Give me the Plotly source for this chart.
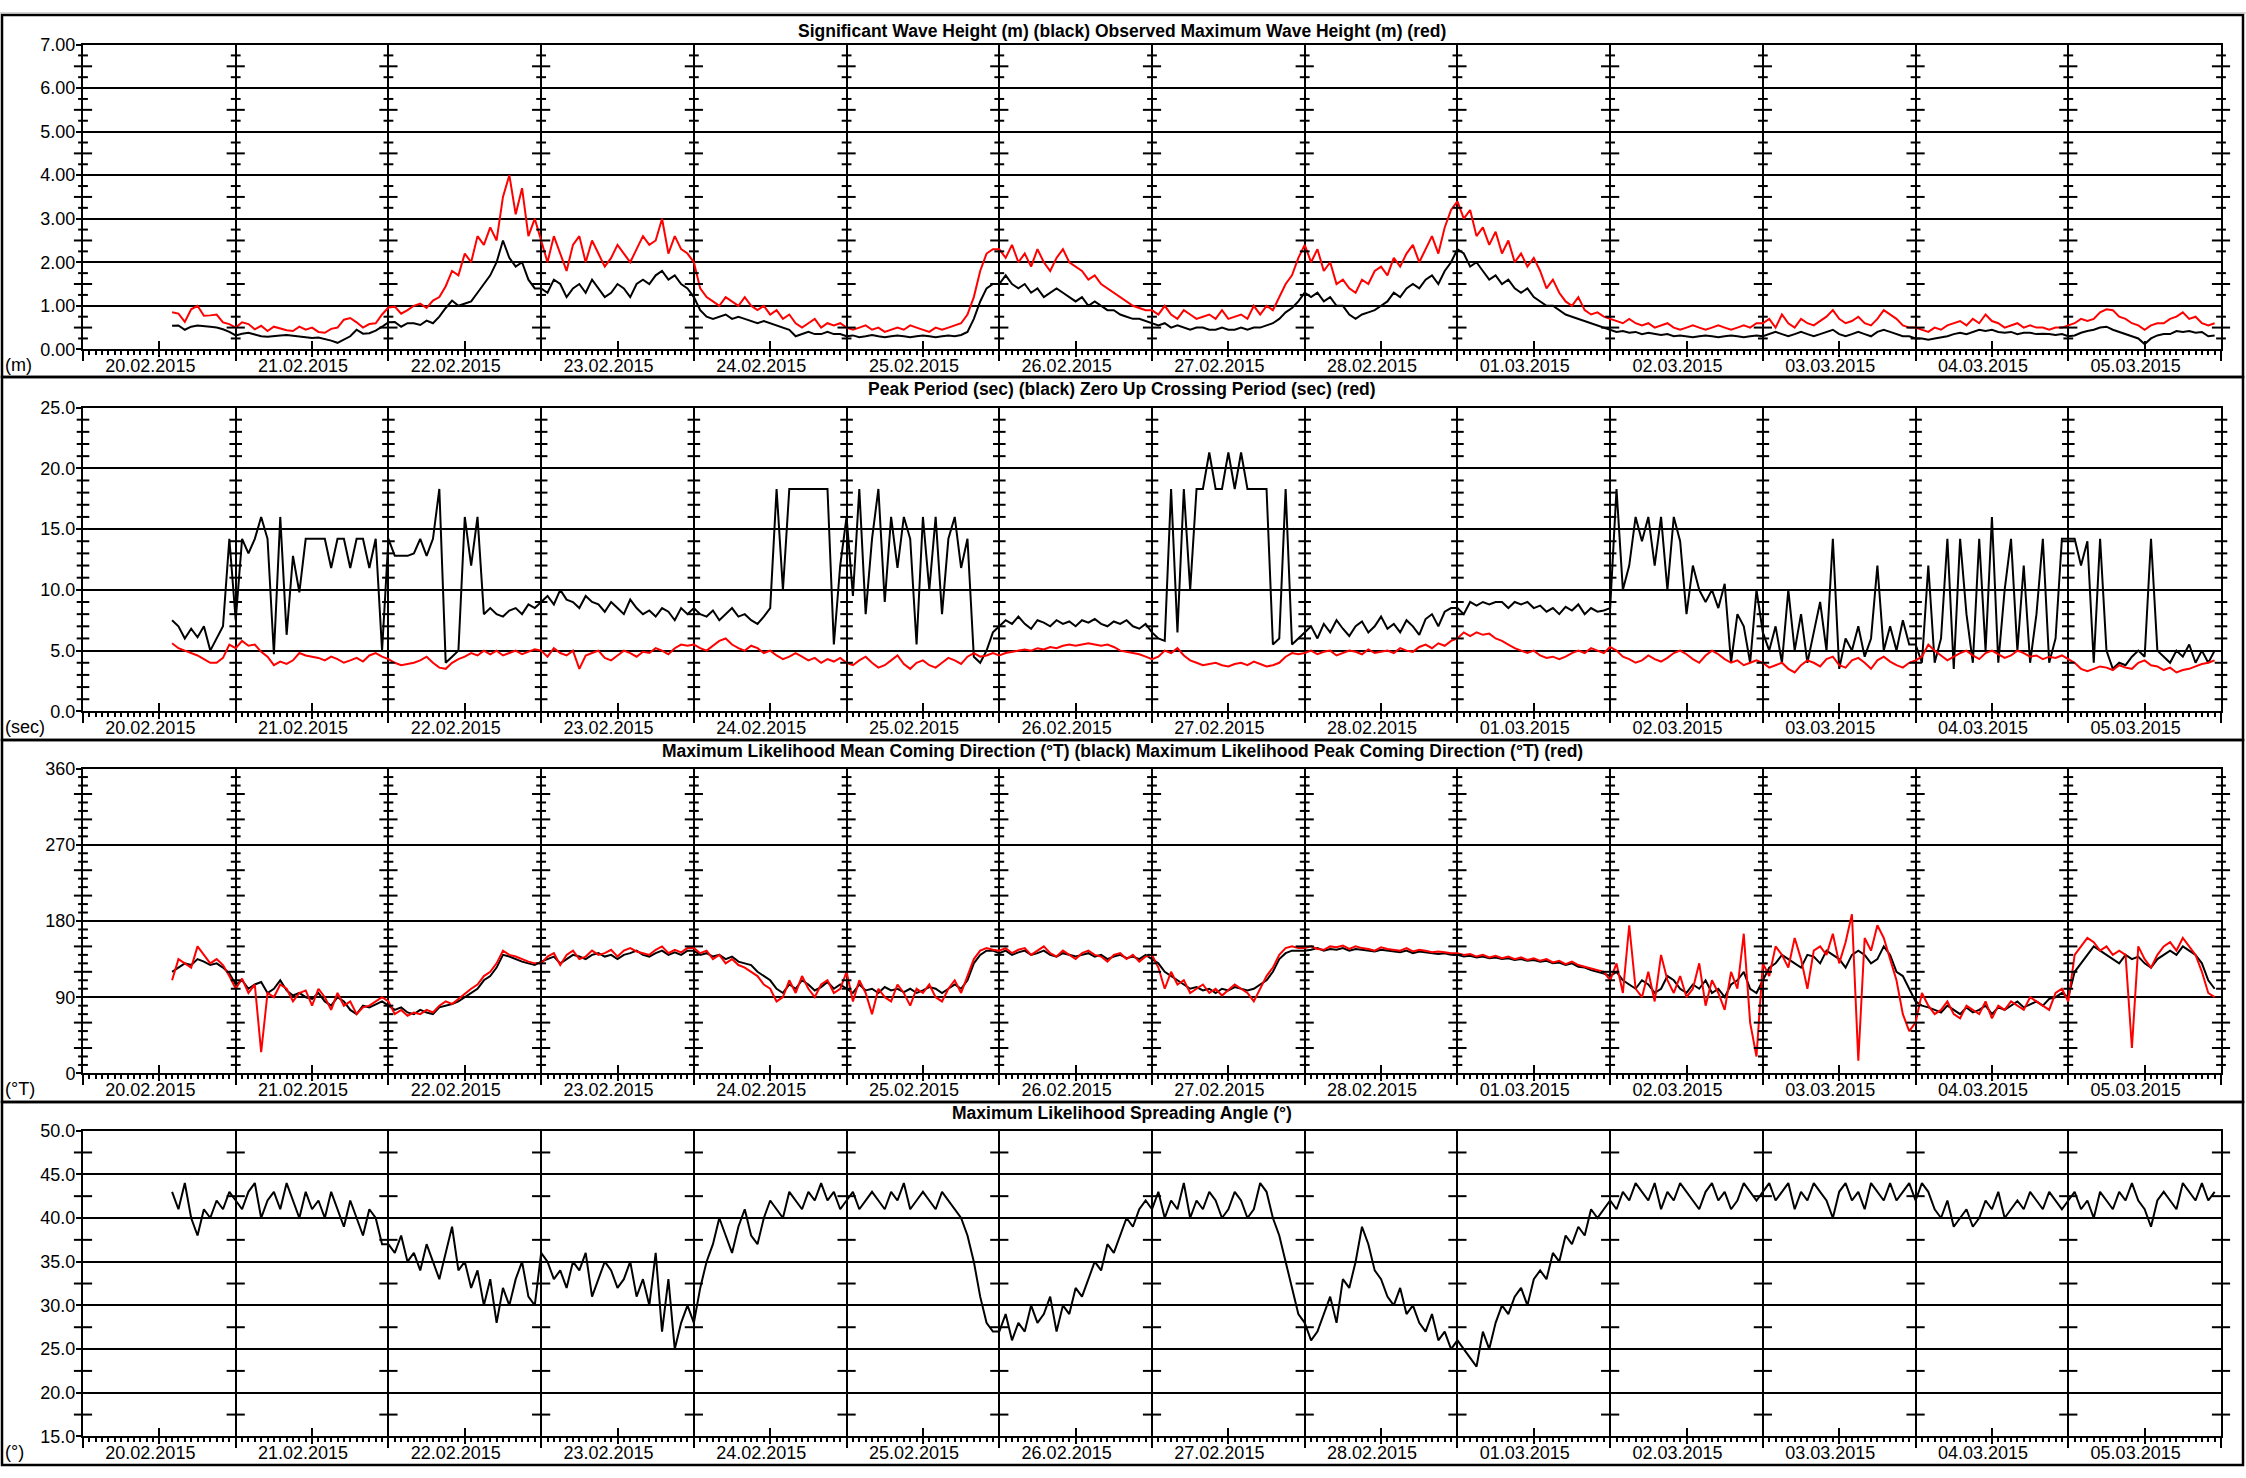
import pandas as pd
import plotly.graph_objects as go

# ---------------- DATA (hourly samples, first sample 20.02.2015 14:00) ----------------
START = "2015-02-20 14:00"

HS = [  # Significant wave height (m) - black
    0.54, 0.55, 0.45, 0.52, 0.55, 0.54, 0.52, 0.50, 0.46, 0.40,
    0.32, 0.36, 0.38, 0.34, 0.30, 0.29, 0.31, 0.32, 0.33, 0.31, 0.30, 0.28, 0.26, 0.27, 0.24, 0.20, 0.15, 0.22, 0.30, 0.45, 0.36, 0.37, 0.43, 0.52,
    0.62, 0.63, 0.52, 0.60, 0.60, 0.56, 0.66, 0.60, 0.75, 0.95, 1.12, 1.00, 1.05, 1.10, 1.30, 1.50, 1.70, 2.00, 2.50, 2.10, 1.90, 2.00, 1.60, 1.40,
    1.40, 1.30, 1.60, 1.50, 1.20, 1.40, 1.50, 1.30, 1.60, 1.40, 1.20, 1.30, 1.50, 1.40, 1.20, 1.50, 1.60, 1.50, 1.70, 1.80, 1.60, 1.70, 1.50, 1.40,
    1.20, 0.90, 0.75, 0.70, 0.75, 0.80, 0.70, 0.75, 0.70, 0.65, 0.60, 0.65, 0.60, 0.55, 0.50, 0.45, 0.30, 0.35, 0.40, 0.35, 0.35, 0.40, 0.35, 0.35,
    0.30, 0.32, 0.28, 0.30, 0.33, 0.30, 0.28, 0.30, 0.32, 0.30, 0.28, 0.30, 0.32, 0.30, 0.28, 0.30, 0.32, 0.30, 0.33, 0.40, 0.70, 1.10, 1.40, 1.50,
    1.50, 1.70, 1.50, 1.40, 1.50, 1.30, 1.40, 1.20, 1.30, 1.40, 1.30, 1.20, 1.10, 1.20, 1.00, 1.10, 1.00, 0.90, 0.90, 0.80, 0.75, 0.70, 0.70, 0.65,
    0.60, 0.55, 0.60, 0.50, 0.55, 0.50, 0.45, 0.50, 0.50, 0.45, 0.45, 0.50, 0.45, 0.45, 0.50, 0.45, 0.50, 0.50, 0.55, 0.60, 0.70, 0.85, 0.95, 1.10,
    1.30, 1.20, 1.30, 1.10, 1.20, 1.00, 1.00, 0.80, 0.70, 0.80, 0.85, 0.90, 1.00, 1.10, 1.30, 1.20, 1.40, 1.50, 1.40, 1.60, 1.70, 1.50, 1.80, 2.00,
    2.30, 2.20, 1.90, 2.00, 1.80, 1.60, 1.70, 1.50, 1.60, 1.40, 1.30, 1.40, 1.20, 1.10, 1.00, 1.00, 0.90, 0.80, 0.75, 0.70, 0.65, 0.60, 0.55, 0.50,
    0.45, 0.40, 0.42, 0.38, 0.40, 0.35, 0.38, 0.35, 0.33, 0.35, 0.30, 0.32, 0.30, 0.28, 0.30, 0.32, 0.30, 0.28, 0.30, 0.32, 0.30, 0.28, 0.30, 0.32,
    0.30, 0.35, 0.40, 0.35, 0.30, 0.35, 0.40, 0.35, 0.30, 0.35, 0.40, 0.45, 0.35, 0.30, 0.35, 0.40, 0.35, 0.30, 0.40, 0.45, 0.40, 0.35, 0.30, 0.30,
    0.25, 0.25, 0.22, 0.25, 0.28, 0.30, 0.35, 0.38, 0.35, 0.40, 0.45, 0.42, 0.45, 0.40, 0.38, 0.40, 0.35, 0.38, 0.38, 0.35, 0.36, 0.35, 0.33, 0.35,
    0.30, 0.32, 0.38, 0.42, 0.45, 0.50, 0.52, 0.45, 0.40, 0.35, 0.30, 0.25, 0.12, 0.25, 0.32, 0.35, 0.35, 0.42, 0.40, 0.42, 0.38, 0.40, 0.30, 0.32,
]

HMAX = [  # Observed maximum wave height (m) - red
    0.85, 0.82, 0.63, 0.92, 1.00, 0.77, 0.78, 0.80, 0.62, 0.58,
    0.50, 0.62, 0.58, 0.46, 0.54, 0.42, 0.52, 0.48, 0.44, 0.42, 0.52, 0.45, 0.50, 0.40, 0.38, 0.47, 0.50, 0.68, 0.72, 0.62, 0.50, 0.58, 0.60, 0.80,
    0.96, 0.98, 0.82, 0.90, 1.00, 1.05, 0.95, 1.12, 1.20, 1.45, 1.80, 1.70, 2.20, 2.00, 2.60, 2.40, 2.80, 2.50, 3.50, 4.00, 3.10, 3.70, 2.60, 3.00,
    2.50, 2.00, 2.60, 2.20, 1.80, 2.40, 2.60, 2.00, 2.50, 2.20, 1.90, 2.10, 2.40, 2.20, 2.00, 2.30, 2.60, 2.40, 2.50, 3.00, 2.20, 2.60, 2.30, 2.20,
    2.00, 1.40, 1.20, 1.10, 1.00, 1.20, 1.10, 1.00, 1.20, 1.00, 0.90, 1.00, 0.80, 0.90, 0.70, 0.80, 0.60, 0.50, 0.60, 0.70, 0.50, 0.60, 0.55, 0.60,
    0.50, 0.45, 0.50, 0.55, 0.45, 0.50, 0.40, 0.45, 0.50, 0.45, 0.55, 0.50, 0.45, 0.40, 0.50, 0.45, 0.50, 0.55, 0.60, 0.80, 1.20, 1.80, 2.20, 2.30,
    2.30, 2.10, 2.40, 2.00, 2.20, 1.90, 2.30, 2.00, 1.80, 2.10, 2.30, 2.00, 1.90, 1.80, 1.60, 1.70, 1.50, 1.40, 1.30, 1.20, 1.10, 1.00, 0.95, 0.90,
    0.90, 0.80, 1.00, 0.80, 0.70, 0.90, 0.80, 0.70, 0.75, 0.80, 0.70, 0.90, 0.70, 0.75, 0.80, 0.70, 1.00, 0.80, 1.00, 0.90, 1.20, 1.50, 1.70, 2.10,
    2.40, 2.00, 2.30, 1.80, 2.00, 1.50, 1.60, 1.40, 1.30, 1.60, 1.50, 1.80, 1.90, 1.70, 2.10, 1.90, 2.20, 2.40, 2.00, 2.30, 2.60, 2.20, 2.80, 3.20,
    3.40, 3.00, 3.20, 2.60, 2.80, 2.40, 2.70, 2.20, 2.50, 2.00, 2.20, 1.90, 2.10, 1.80, 1.40, 1.60, 1.30, 1.10, 1.00, 1.20, 0.90, 0.80, 0.85, 0.75,
    0.70, 0.65, 0.60, 0.70, 0.60, 0.55, 0.60, 0.50, 0.55, 0.60, 0.50, 0.45, 0.50, 0.55, 0.50, 0.45, 0.50, 0.55, 0.50, 0.45, 0.50, 0.55, 0.50, 0.60,
    0.60, 0.70, 0.50, 0.80, 0.60, 0.50, 0.70, 0.60, 0.55, 0.65, 0.75, 0.90, 0.70, 0.60, 0.65, 0.75, 0.60, 0.55, 0.70, 0.90, 0.80, 0.70, 0.55, 0.50,
    0.50, 0.45, 0.40, 0.50, 0.45, 0.55, 0.60, 0.65, 0.55, 0.70, 0.60, 0.80, 0.65, 0.60, 0.50, 0.55, 0.60, 0.50, 0.55, 0.50, 0.50, 0.45, 0.50, 0.50,
    0.55, 0.60, 0.70, 0.65, 0.70, 0.85, 0.92, 0.90, 0.75, 0.70, 0.60, 0.55, 0.45, 0.55, 0.60, 0.60, 0.70, 0.75, 0.85, 0.70, 0.75, 0.60, 0.55, 0.60,
]

TP = [  # Peak period (sec) - black
    7.5, 7.0, 6.0, 6.8, 6.1, 7.0, 5.0, 6.0, 7.0, 14.2,
    7.5, 14.2, 13.0, 14.2, 16.0, 14.2, 4.7, 16.0, 6.3, 12.8, 9.8, 14.2, 14.2, 14.2, 14.2, 11.8, 14.2, 14.2, 11.8, 14.2, 14.2, 11.8, 14.2, 5.0,
    14.2, 12.8, 12.8, 12.8, 13.0, 14.2, 12.8, 14.2, 18.3, 4.0, 4.5, 5.0, 16.0, 12.0, 16.0, 8.0, 8.5, 8.0, 7.8, 8.3, 8.5, 8.0, 8.8, 8.5,
    9.0, 9.5, 8.8, 10.0, 9.2, 9.0, 8.5, 9.5, 9.0, 8.8, 8.2, 9.0, 8.5, 8.0, 9.2, 8.5, 8.0, 8.3, 7.8, 8.5, 8.2, 7.5, 8.5, 8.0,
    8.5, 8.0, 7.8, 8.3, 7.5, 8.0, 8.5, 7.8, 8.0, 7.5, 7.2, 7.8, 8.5, 18.3, 10.0, 18.3, 18.3, 18.3, 18.3, 18.3, 18.3, 18.3, 5.5, 12.0,
    16.0, 9.5, 18.3, 8.0, 14.2, 18.3, 9.0, 16.0, 11.8, 16.0, 14.2, 5.5, 16.0, 10.0, 16.0, 8.0, 14.2, 16.0, 11.8, 14.2, 4.5, 4.0, 5.0, 6.5,
    7.0, 7.5, 7.2, 7.8, 7.2, 6.8, 7.5, 7.3, 7.0, 7.5, 7.2, 7.4, 7.0, 7.5, 7.3, 7.6, 7.2, 7.0, 7.4, 7.2, 7.5, 7.0, 6.8, 7.2,
    6.5, 6.0, 5.8, 18.3, 6.5, 18.3, 10.0, 18.3, 18.3, 21.3, 18.3, 18.3, 21.3, 18.3, 21.3, 18.3, 18.3, 18.3, 18.3, 5.5, 6.0, 18.3, 5.5, 6.0,
    6.5, 7.0, 6.0, 7.2, 6.5, 7.5, 6.8, 6.2, 7.0, 7.4, 6.5, 7.0, 7.8, 6.8, 7.2, 6.5, 7.5, 7.0, 6.3, 7.6, 8.0, 7.0, 8.2, 8.5,
    8.5, 8.0, 9.0, 8.7, 9.0, 8.8, 9.0, 9.0, 8.5, 9.0, 8.8, 9.0, 8.5, 8.7, 8.2, 8.5, 8.0, 8.6, 8.3, 8.8, 8.0, 8.5, 8.2, 8.3,
    8.5, 18.3, 10.0, 12.0, 16.0, 14.0, 16.0, 12.0, 16.0, 10.0, 16.0, 14.0, 8.0, 12.0, 10.0, 9.0, 10.0, 8.5, 10.5, 4.0, 8.0, 7.0, 4.0, 10.0,
    6.5, 5.0, 7.0, 4.0, 10.0, 5.0, 8.0, 4.0, 6.5, 9.0, 5.0, 14.2, 3.5, 6.0, 5.0, 7.0, 4.5, 6.0, 12.0, 5.0, 7.0, 5.0, 7.5, 5.5,
    5.5, 4.0, 12.0, 4.0, 6.0, 14.2, 3.5, 14.2, 8.0, 4.0, 14.2, 5.0, 16.0, 4.0, 10.0, 14.2, 5.0, 12.0, 4.0, 8.0, 14.2, 4.0, 6.0, 14.2,
    14.2, 14.2, 12.0, 14.0, 4.0, 14.2, 5.0, 3.5, 4.0, 3.8, 4.5, 5.0, 4.5, 14.2, 5.0, 4.5, 4.0, 5.0, 4.5, 5.5, 4.0, 5.0, 4.0, 5.0,
]

TZ = [  # Zero up-crossing period (sec) - red
    5.6, 5.2, 5.0, 4.8, 4.6, 4.3, 4.0, 4.0, 4.4, 5.5,
    5.2, 5.8, 5.4, 5.5, 4.9, 4.5, 3.8, 4.1, 3.9, 4.2, 4.8, 4.6, 4.5, 4.4, 4.2, 4.5, 4.3, 4.0, 4.2, 4.4, 4.1, 4.6, 4.8, 4.5,
    4.3, 4.0, 3.8, 3.9, 4.0, 4.2, 4.5, 4.0, 3.6, 3.5, 4.0, 4.3, 4.5, 4.8, 4.6, 5.0, 4.7, 5.0, 4.6, 4.8, 5.0, 4.7, 4.9, 5.1,
    5.0, 4.5, 5.2, 4.8, 4.6, 5.0, 3.5, 4.6, 4.8, 5.0, 4.4, 4.2, 4.6, 5.0, 4.8, 4.5, 4.9, 4.8, 5.2, 5.0, 4.7, 5.2, 5.5, 5.4,
    5.5, 5.2, 5.0, 5.4, 5.8, 6.0, 5.5, 5.2, 5.0, 5.4, 5.2, 4.8, 5.0, 4.6, 4.3, 4.5, 4.8, 4.5, 4.2, 4.4, 4.0, 4.3, 4.1, 4.4,
    4.0, 3.8, 4.2, 4.5, 4.0, 3.6, 3.8, 4.2, 4.6, 3.9, 3.5, 4.0, 4.2, 3.8, 3.6, 4.0, 4.4, 4.2, 3.9, 4.5, 4.8, 4.5, 4.6, 4.8,
    4.6, 4.8, 4.9, 5.0, 5.1, 5.0, 5.2, 5.1, 5.3, 5.2, 5.4, 5.5, 5.4, 5.5, 5.6, 5.5, 5.4, 5.5, 5.3, 5.0, 4.9, 4.8, 4.7, 4.5,
    4.3, 4.5, 5.0, 4.8, 5.2, 4.6, 4.2, 4.0, 3.8, 3.9, 4.0, 3.8, 3.7, 3.9, 4.0, 3.8, 4.1, 3.9, 3.7, 3.8, 4.0, 4.5, 4.8, 4.7,
    4.8, 5.0, 4.7, 4.9, 5.0, 4.6, 4.8, 5.0, 4.9, 4.7, 5.1, 4.8, 4.9, 5.0, 4.8, 5.2, 5.0, 4.9, 5.3, 5.5, 5.2, 5.6, 5.4, 5.8,
    6.0, 6.5, 6.2, 6.5, 6.3, 6.4, 6.0, 5.8, 5.5, 5.2, 5.0, 4.8, 5.0, 4.6, 4.4, 4.5, 4.3, 4.5, 4.8, 5.0, 4.8, 5.2, 5.0, 4.8,
    5.3, 5.0, 4.5, 4.3, 4.0, 4.2, 4.6, 4.3, 4.1, 4.4, 4.8, 5.0, 4.7, 4.3, 4.0, 4.6, 5.0, 4.7, 4.3, 4.0, 4.2, 3.8, 4.0, 4.2,
    4.0, 3.6, 3.8, 4.0, 3.5, 3.2, 3.8, 4.2, 4.0, 3.7, 4.3, 4.5, 3.8, 3.6, 4.2, 4.4, 4.0, 3.5, 4.2, 4.5, 4.1, 3.8, 3.6, 4.0,
    4.2, 4.5, 5.5, 5.0, 4.6, 4.2, 4.5, 4.8, 5.0, 4.6, 4.3, 4.8, 5.0, 4.7, 4.4, 4.6, 5.0, 4.8, 4.5, 4.6, 4.3, 4.5, 4.4, 4.6,
    4.3, 4.0, 3.5, 3.3, 3.5, 3.7, 3.6, 3.4, 3.8, 3.6, 3.5, 4.0, 4.2, 3.8, 3.7, 3.4, 3.6, 3.2, 3.4, 3.5, 3.7, 3.9, 4.0, 4.2,
]

MDIR = [  # Maximum likelihood mean coming direction (deg T) - black
    120, 125, 130, 128, 135, 132, 128, 130, 125, 118,
    105, 110, 100, 105, 108, 95, 100, 110, 98, 92, 95, 90, 88, 95, 85, 80, 90, 85, 75, 70, 80, 78, 82, 85,
    80, 75, 78, 72, 70, 75, 72, 70, 78, 80, 82, 85, 90, 95, 100, 110, 115, 125, 140, 138, 135, 132, 130, 128,
    132, 135, 138, 130, 135, 140, 138, 135, 140, 142, 138, 140, 135, 140, 142, 145, 140, 138, 142, 145, 140, 143, 140, 145,
    145, 140, 142, 138, 140, 135, 138, 132, 130, 128, 120, 115, 110, 100, 95, 105, 100, 110, 105, 98, 102, 108, 100, 105,
    100, 95, 105, 98, 100, 95, 102, 98, 100, 96, 100, 95, 98, 102, 100, 95, 100, 105, 100, 110, 130, 140, 145, 145,
    142, 145, 140, 143, 145, 140, 142, 145, 140, 138, 142, 140, 138, 140, 142, 138, 140, 135, 138, 140, 136, 138, 135, 140,
    135, 130, 120, 115, 110, 105, 100, 102, 98, 100, 95, 100, 98, 102, 100, 98, 100, 105, 110, 120, 135, 142, 145, 145,
    145, 146, 148, 145, 147, 146, 148, 145, 147, 146, 145, 144, 146, 145, 144, 143, 145, 142, 144, 143, 142, 141, 142, 140,
    140, 138, 139, 137, 138, 136, 137, 135, 136, 134, 135, 133, 134, 132, 133, 130, 131, 128, 130, 126, 125, 122, 120, 118,
    115, 120, 110, 105, 100, 110, 105, 95, 100, 115, 110, 100, 95, 105, 100, 110, 95, 100, 90, 105, 110, 120, 100, 95,
    110, 125, 130, 140, 135, 130, 125, 140, 138, 130, 145, 140, 135, 125, 140, 145, 140, 130, 135, 150, 140, 120, 115, 100,
    85, 80, 78, 75, 72, 80, 75, 70, 78, 72, 75, 80, 70, 78, 75, 80, 85, 78, 82, 85, 80, 88, 90, 95,
    90, 120, 130, 140, 150, 145, 140, 135, 130, 140, 135, 138, 130, 125, 135, 140, 145, 140, 150, 145, 140, 130, 110, 100,
]

PDIR = [  # Maximum likelihood peak coming direction (deg T) - red
    110, 135, 130, 125, 150, 140, 130, 135, 128, 115,
    100, 112, 95, 105, 25, 95, 90, 105, 100, 85, 95, 98, 80, 100, 90, 75, 95, 80, 85, 70, 78, 80, 85, 90,
    85, 70, 75, 68, 72, 70, 75, 72, 80, 85, 82, 88, 95, 100, 105, 115, 120, 130, 145, 140, 138, 135, 132, 130,
    130, 138, 142, 128, 140, 145, 135, 138, 145, 140, 142, 146, 138, 145, 148, 144, 142, 140, 146, 150, 142, 146, 143, 148,
    148, 142, 145, 135, 140, 130, 135, 128, 125, 120, 115, 105, 100, 85, 90, 110, 95, 115, 100, 90, 105, 110, 95, 100,
    120, 85, 110, 95, 70, 100, 90, 85, 105, 95, 80, 100, 95, 105, 90, 85, 100, 110, 95, 115, 135, 145, 148, 146,
    145, 148, 142, 146, 148, 140, 145, 150, 142, 138, 145, 140, 135, 142, 145, 140, 138, 132, 140, 142, 135, 140, 132, 138,
    140, 125, 100, 120, 105, 110, 95, 100, 105, 95, 100, 92, 98, 105, 100, 95, 85, 100, 115, 125, 140, 148, 150, 148,
    148, 150, 147, 146, 150, 149, 151, 147, 150, 148, 147, 145, 149, 147, 146, 145, 148, 144, 146, 145, 143, 144, 143, 142,
    142, 140, 141, 138, 140, 137, 139, 136, 138, 135, 137, 134, 136, 133, 135, 131, 133, 129, 132, 128, 126, 124, 122, 120,
    110, 130, 95, 175, 100, 90, 120, 85, 140, 110, 95, 115, 90, 100, 130, 80, 110, 95, 75, 120, 100, 165, 60, 20,
    130, 115, 150, 140, 125, 160, 135, 100, 145, 150, 140, 165, 130, 155, 188, 15, 160, 145, 175, 160, 135, 110, 70, 50,
    60, 95, 80, 70, 75, 85, 70, 65, 80, 75, 70, 85, 65, 80, 75, 85, 80, 75, 90, 85, 80, 75, 95, 100,
    85, 140, 150, 160, 155, 145, 150, 140, 145, 140, 30, 150, 135, 125, 140, 150, 155, 145, 160, 150, 140, 120, 95, 90,
]

SPREAD = [  # Maximum likelihood spreading angle (deg) - black
    43, 41, 44, 40, 38, 41, 40, 42, 41, 43,
    42, 41, 43, 44, 40, 42, 43, 41, 44, 42, 40, 43, 41, 42, 40, 43, 41, 39, 42, 40, 38, 41, 40, 37,
    37, 36, 38, 35, 36, 34, 37, 35, 33, 36, 39, 34, 35, 32, 34, 30, 33, 28, 32, 30, 33, 35, 31, 30,
    36, 35, 33, 34, 32, 35, 34, 36, 31, 33, 35, 34, 32, 33, 35, 31, 33, 30, 36, 27, 33, 25, 28, 30,
    28, 32, 35, 37, 40, 38, 36, 39, 41, 38, 37, 40, 42, 41, 40, 43, 42, 41, 43, 42, 44, 42, 43, 41,
    42, 43, 41, 42, 43, 42, 41, 43, 42, 44, 41, 42, 43, 42, 41, 43, 42, 41, 40, 38, 35, 31, 28, 27,
    27, 29, 26, 28, 27, 30, 28, 29, 31, 27, 30, 29, 32, 31, 33, 35, 34, 37, 36, 38, 40, 39, 41, 42,
    41, 43, 40, 42, 41, 44, 40, 42, 41, 43, 42, 40, 41, 43, 42, 40, 41, 44, 43, 40, 38, 35, 32, 29,
    28, 26, 27, 29, 31, 28, 33, 32, 35, 39, 37, 34, 33, 31, 30, 32, 29, 30, 28, 27, 29, 26, 27, 25,
    26, 25, 24, 23, 27, 25, 28, 30, 29, 31, 32, 30, 33, 34, 33, 36, 35, 38, 37, 39, 38, 41, 40, 41,
    42, 41, 43, 42, 44, 43, 42, 44, 41, 43, 42, 44, 43, 42, 41, 43, 44, 42, 43, 41, 42, 44, 43, 42,
    43, 44, 42, 43, 44, 41, 43, 42, 44, 43, 42, 40, 43, 44, 42, 43, 41, 44, 43, 42, 44, 42, 43, 44,
    42, 44, 43, 41, 40, 42, 39, 40, 41, 39, 40, 42, 41, 43, 40, 41, 42, 41, 43, 42, 41, 43, 42, 41,
    42, 43, 41, 42, 40, 43, 42, 41, 43, 42, 44, 42, 41, 39, 42, 43, 42, 41, 44, 43, 42, 44, 42, 43,
]

TITLES = [
    "Significant Wave Height (m) (black) Observed Maximum Wave Height (m) (red)",
    "Peak Period (sec) (black) Zero Up Crossing Period (sec) (red)",
    "Maximum Likelihood Mean Coming Direction (°T) (black) Maximum Likelihood Peak Coming Direction (°T) (red)",
    "Maximum Likelihood Spreading Angle (°)",
]
UNITS = ["(m)", "(sec)", "(°T)", "(°)"]
Y_RANGES = [(0, 7), (0, 25), (0, 360), (15, 50)]
Y_DTICK = [1, 5, 90, 5]
Y_FORMAT = [".2f", ".1f", "d", ".1f"]
# small cross ticks on each day line: (long marks, short marks)
Y_CROSS_LONG = [[0.5, 1.5, 2.5, 3.5, 4.5, 5.5, 6.5],
                [],
                [30, 60, 120, 150, 210, 240, 300, 330],
                [17.5, 22.5, 27.5, 32.5, 37.5, 42.5, 47.5]]
Y_CROSS_SHORT = [[0.25, 0.75, 1.25, 1.75, 2.25, 2.75, 3.25, 3.75, 4.25, 4.75, 5.25, 5.75, 6.25, 6.75],
                 [v for v in range(1, 25) if v % 5 != 0],
                 [v for v in range(10, 360, 10) if v % 30 != 0],
                 []]

X_START = "2015-02-20 00:00"
X_END = "2015-03-06 00:00"

# ---------------- FIGURE ----------------
W, H = 2246, 1478
FONT = "Liberation Sans, Arial, Helvetica, sans-serif"
for name, s in [("HS", HS), ("HMAX", HMAX), ("TP", TP), ("TZ", TZ), ("MDIR", MDIR), ("PDIR", PDIR), ("SPREAD", SPREAD)]:
    if len(s) != 322:
        raise ValueError(f"{name} has {len(s)} values")


def px(x):
    return x / W


def py(y):
    return 1 - y / H


XDOM = [px(83), px(2221)]
PLOT_TOP = [35, 403, 769, 1136]
PLOT_BOT = [344, 711, 1078, 1446]
BORDERS = [5, 372, 740, 1107, 1475]
TITLE_Y = [21, 384, 751, 1118]

times = pd.date_range(START, periods=len(HS), freq="h")
mids = pd.date_range(X_START, X_END, freq="D")

series = [[(HS, "black"), (HMAX, "red")],
          [(TP, "black"), (TZ, "red")],
          [(MDIR, "black"), (PDIR, "red")],
          [(SPREAD, "black")]]

fig = go.Figure()
layout = dict(
    width=W, height=H, margin=dict(l=0, r=0, t=0, b=0),
    paper_bgcolor="white", plot_bgcolor="white", showlegend=False,
    font=dict(family=FONT, size=18, color="black"),
)
annotations = []
shapes = []

for i in range(4):
    k = i + 1
    kg = k + 4
    kn = k + 8
    ydom = [py(PLOT_BOT[i]), py(PLOT_TOP[i])]
    # main axis: day labels at noon
    layout[f"xaxis{k}"] = dict(
        domain=XDOM, anchor=f"y{k}", type="date", range=[X_START, X_END],
        tick0="2015-02-20 12:00", dtick=86400000, tickformat="%d.%m.%Y",
        ticks="outside", ticklen=6, tickwidth=2, tickcolor="black",
        ticklabelshift=-9, ticklabelstandoff=-7,
        showgrid=False, zeroline=False, showline=True, linecolor="black", linewidth=2, mirror=True,
        tickfont=dict(family=FONT, size=18, color="black"), fixedrange=True,
    )
    # overlay: midnight day lines + hourly minor ticks
    layout[f"xaxis{kg}"] = dict(
        domain=XDOM, anchor=f"y{k}", overlaying=f"x{k}", type="date", range=[X_START, X_END],
        tick0=X_START, dtick=86400000, showticklabels=False,
        ticks="outside", ticklen=11, tickwidth=2, tickcolor="black",
        showgrid=True, gridcolor="black", gridwidth=2, zeroline=False, showline=False,
        minor=dict(tick0=X_START, dtick=3600000, ticks="outside", ticklen=5, tickwidth=1.5,
                   tickcolor="black", showgrid=False),
        fixedrange=True,
    )
    # overlay: noon ticks pointing into the plot
    layout[f"xaxis{kn}"] = dict(
        domain=XDOM, anchor=f"y{k}", overlaying=f"x{k}", type="date", range=[X_START, X_END],
        tick0="2015-02-20 12:00", dtick=86400000, showticklabels=False,
        ticks="inside", ticklen=8, tickwidth=2, tickcolor="black",
        showgrid=False, zeroline=False, showline=False, fixedrange=True,
    )
    lo, hi = Y_RANGES[i]
    layout[f"yaxis{k}"] = dict(
        domain=ydom, anchor=f"x{k}", range=[lo, hi], tick0=lo, dtick=Y_DTICK[i], tickformat=Y_FORMAT[i],
        ticks="outside", ticklen=5, tickwidth=2, tickcolor="black", ticklabelstandoff=-3,
        showgrid=True, gridcolor="black", gridwidth=2, zeroline=False,
        showline=True, linecolor="black", linewidth=2, mirror=True,
        tickfont=dict(family=FONT, size=18, color="black"), fixedrange=True,
    )

    # data lines
    for vals, col in series[i]:
        fig.add_trace(go.Scatter(x=times, y=vals, mode="lines", line=dict(color=col, width=2),
                                 xaxis=f"x{k}", yaxis=f"y{k}", hoverinfo="skip"))

    # cross ticks on every day line
    for vals, size in [(Y_CROSS_LONG[i], 13), (Y_CROSS_SHORT[i], 7 if i != 1 else 9)]:
        if not vals:
            continue
        xs = [m for m in mids for _ in vals]
        ys = [v for _ in mids for v in vals]
        fig.add_trace(go.Scatter(x=xs, y=ys, mode="markers", cliponaxis=False,
                                 marker=dict(symbol="line-ew", size=size, color="black",
                                             line=dict(color="black", width=2)),
                                 xaxis=f"x{kg}", yaxis=f"y{k}", hoverinfo="skip"))
    fig.add_trace(go.Scatter(x=[X_START], y=[None], mode="markers", xaxis=f"x{kn}", yaxis=f"y{k}",
                             hoverinfo="skip"))

    # panel title
    annotations.append(dict(text=f"<b>{TITLES[i]}</b>", xref="paper", yref="paper",
                            x=px(1122), y=py(TITLE_Y[i]), xanchor="center", yanchor="middle",
                            showarrow=False, font=dict(family=FONT, size=17.5, color="black")))
    # unit label
    annotations.append(dict(text=UNITS[i], xref="paper", yref="paper",
                            x=px(3), y=py(PLOT_BOT[i] + 16), xanchor="left", yanchor="middle",
                            showarrow=False, font=dict(family=FONT, size=18, color="black")))
    # panel border
    shapes.append(dict(type="rect", xref="paper", yref="paper",
                       x0=px(2), x1=px(2243), y0=py(BORDERS[i + 1]), y1=py(BORDERS[i]),
                       line=dict(color="black", width=2.5), fillcolor="rgba(0,0,0,0)", layer="above"))

shapes.append(dict(type="line", xref="paper", yref="paper", x0=0, x1=1, y0=py(3), y1=py(3),
                   line=dict(color="#b0b0b0", width=1)))
layout["annotations"] = annotations
layout["shapes"] = shapes
fig.update_layout(**layout)
fig.write_html("out.html", config={"displayModeBar": False},
               post_script="document.body.style.margin='0px';document.body.style.overflow='hidden';")
